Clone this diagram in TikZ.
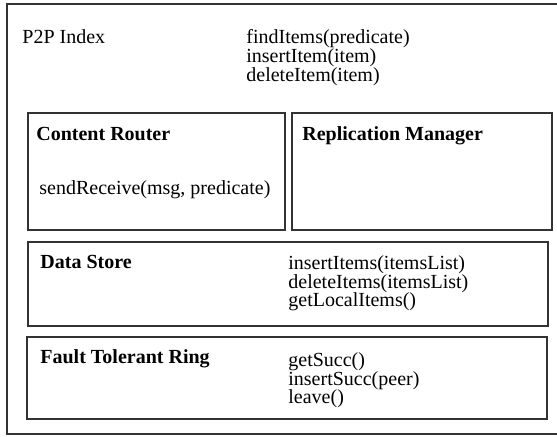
\documentclass[tikz,border=0pt]{standalone}
\usepackage{fontspec}
\setmainfont{Liberation Serif}
\begin{document}
\begin{tikzpicture}[x=0.5pt,y=-0.5pt,
  box/.style={draw=black!80,line width=0.6pt},
  heading/.style={anchor=base west,inner sep=0pt,font=\fontsize{10}{9.4}\selectfont\bfseries},
  txt/.style={anchor=base west,inner sep=0pt,font=\fontsize{10}{9.4}\selectfont},
  ops/.style={anchor=north west,inner sep=0pt,align=left,font=\fontsize{10}{9.4}\selectfont}]

\useasboundingbox (0,0) rectangle (557,436);

% outer frame, right side runs off the page
\draw [box] (557,4) -- (7,4) -- (7,434) -- (557,434);
\node [txt] (index) at (22,43) {P2P Index};
\node [ops] (indexops) at (246,29) {findItems(predicate)\\insertItem(item)\\deleteItem(item)};

\draw [box] (28,113) rectangle (285,230);
\node [heading] (router) at (36,140) {Content Router};
\node [txt] (routerops) at (39,194) {sendReceive(msg, predicate)};

\draw [box] (292,113) rectangle (552,230);
\node [heading] (repl) at (302,140) {Replication Manager};

\draw [box] (28,242) rectangle (548,326);
\node [heading] (store) at (40,268) {Data Store};
\node [ops] (storeops) at (288,255) {insertItems(itemsList)\\deleteItems(itemsList)\\getLocalItems()};

\draw [box] (27,337) rectangle (547,419);
\node [heading] (ring) at (40,363) {Fault Tolerant Ring};
\node [ops] (ringops) at (288,352) {getSucc()\\insertSucc(peer)\\leave()};

\end{tikzpicture}
\end{document}
